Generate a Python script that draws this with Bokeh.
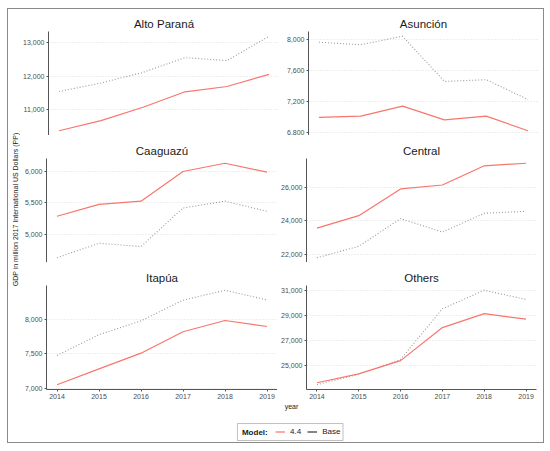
import math
from bokeh.plotting import figure
from bokeh.layouts import column, row
from bokeh.models import (Range1d, FixedTicker, NumeralTickFormatter, Label,
                          Legend, LegendItem, BoxAnnotation)
from bokeh.embed import file_html
from bokeh.resources import INLINE

FONT = "Liberation Sans"
RED = "#F8766D"

years = [2014, 2015, 2016, 2017, 2018, 2019]

alto_44 = [10350, 10655, 11060, 11525, 11685, 12050]
alto_base = [11533, 11790, 12110, 12555, 12465, 13200]
asun_44 = [7000, 7016, 7145, 6968, 7016, 6828]
asun_base = [7970, 7937, 8047, 7464, 7487, 7230]
caag_44 = [5284, 5474, 5526, 6000, 6132, 5990]
caag_base = [4621, 4853, 4800, 5416, 5526, 5363]
cent_44 = [23567, 24315, 25917, 26154, 27306, 27460]
cent_base = [21786, 22475, 24136, 23329, 24455, 24574]
itap_44 = [7053, 7283, 7509, 7818, 7980, 7894]
itap_base = [7476, 7776, 7975, 8273, 8417, 8278]
oth_44 = [23603, 24317, 25373, 28016, 29127, 28683]
oth_base = [23444, 24290, 25476, 29516, 31000, 30262]

alto_ticks = [11000, 12000, 13000]
asun_ticks = [6800, 7200, 7600, 8000]
caag_ticks = [5000, 5500, 6000]
cent_ticks = [22000, 24000, 26000]
itap_ticks = [7000, 7500, 8000]
oth_ticks = [25000, 27000, 29000, 31000]

y_title = "GDP in million 2017 International US Dollars (PP)"
x_title = "year"
legend_title = "Model:"
series_labels = ["4.4", "Base"]


def panel(title, y44, ybase, ticks, is_left, top_border, bottom_axis):
    vals = y44 + ybase
    lo, hi = min(vals), max(vals)
    pad = (hi - lo) * 0.05
    p = figure(
        frame_width=231 if is_left else 230,
        frame_height=104,
        x_range=Range1d(2013.75, 2019.25),
        y_range=Range1d(lo - pad, hi + pad),
        x_axis_location="below" if bottom_axis else None,
        min_border_left=26 if is_left else 29,
        min_border_right=0 if is_left else 5,
        min_border_top=top_border,
        min_border_bottom=12 if bottom_axis else 0,
        title=title,
        output_backend="svg",
        toolbar_location=None,
    )
    p.outline_line_color = None
    p.background_fill_color = "white"
    p.border_fill_color = "white"
    p.title.text_font = FONT
    p.title.text_font_size = "11.5px"
    p.title.text_font_style = "normal"
    p.title.text_color = "#1a1a1a"
    p.title.align = "center"
    p.title.standoff = 3

    p.yaxis.ticker = FixedTicker(ticks=ticks)
    p.yaxis.formatter = NumeralTickFormatter(format="0,0")
    for ax in p.axis:
        ax.major_label_text_font = FONT
        ax.major_label_text_font_size = "7px"
        ax.major_label_text_color = "#4d4d4d"
        ax.axis_line_color = "#555555"
        ax.major_tick_line_color = "#555555"
        ax.major_tick_out = 2
        ax.major_tick_in = 0
        ax.minor_tick_line_color = None
        ax.major_label_standoff = 2
    if bottom_axis:
        p.xaxis.ticker = FixedTicker(ticks=years)

    p.xgrid.visible = False
    p.ygrid.grid_line_color = "#dedede"
    p.ygrid.grid_line_dash = "1 2"
    p.ygrid.grid_line_width = 1

    p.line(years, ybase, line_color="#9a9a9a", line_width=1.1, line_dash="1 2")
    p.line(years, y44, line_color=RED, line_width=1.2)
    return p


f1 = panel("Alto Paraná", alto_44, alto_base, alto_ticks, True, 22, False)
f2 = panel("Asunción", asun_44, asun_base, asun_ticks, False, 22, False)
f3 = panel("Caaguazú", caag_44, caag_base, caag_ticks, True, 23, False)
f4 = panel("Central", cent_44, cent_base, cent_ticks, False, 23, False)
f5 = panel("Itapúa", itap_44, itap_base, itap_ticks, True, 23, True)
f6 = panel("Others", oth_44, oth_base, oth_ticks, False, 23, True)

# y-axis title strip
yl = figure(width=12, height=392, x_range=Range1d(0, 1), y_range=Range1d(0, 1),
            x_axis_location=None, y_axis_location=None, min_border=0,
            output_backend="svg", toolbar_location=None)
yl.outline_line_color = None
yl.grid.visible = False
yl.add_layout(Label(x=0.55, y=0.49, text=y_title, angle=math.pi / 2,
                    text_align="center", text_baseline="middle",
                    text_font=FONT, text_font_size="7px", text_color="#1a1a1a"))

# bottom strip: x title and legend
bf = figure(width=533, height=41, x_range=Range1d(0, 1), y_range=Range1d(0, 1),
            x_axis_location=None, y_axis_location=None, min_border=0,
            output_backend="svg", toolbar_location=None)
bf.outline_line_color = None
bf.grid.visible = False
bf.add_layout(Label(x=0.531, y=0.878, text=x_title, text_align="center",
                    text_baseline="middle", text_font=FONT,
                    text_font_size="7px", text_color="#1a1a1a"))
bf.add_layout(BoxAnnotation(left=0.4296, right=0.6276, bottom=0.049, top=0.463,
                            fill_color="white", fill_alpha=1,
                            line_color="#333333", line_width=1))
bf.add_layout(Label(x=0.438, y=0.256, text=legend_title, text_align="left",
                    text_baseline="middle", text_font=FONT,
                    text_font_size="8px", text_font_style="bold",
                    text_color="#1a1a1a"))
nan = float("nan")
r1 = bf.line(x=[nan], y=[nan], line_color=RED, line_width=1.2)
r2 = bf.line(x=[nan], y=[nan], line_color="#333333", line_width=1.2)
legend = Legend(
    items=[LegendItem(label=series_labels[0], renderers=[r1]),
           LegendItem(label=series_labels[1], renderers=[r2])],
    orientation="horizontal", location=(267, 6),
)
legend.label_text_font = FONT
legend.label_text_font_size = "8px"
legend.label_text_color = "#1a1a1a"
legend.border_line_color = None
legend.background_fill_alpha = 0
legend.padding = 0
legend.spacing = 6
legend.margin = 0
legend.glyph_width = 10
legend.glyph_height = 9
legend.label_height = 9
legend.label_width = 1
legend.label_standoff = 5
bf.add_layout(legend)

grid = column(row(f1, f2), row(f3, f4), row(f5, f6))
layout = column(row(yl, grid), bf, margin=(8, 0, 0, 7),
                styles={"border": "1px solid #8a8a8a"})

open("out.html", "w").write(file_html(layout, INLINE))
